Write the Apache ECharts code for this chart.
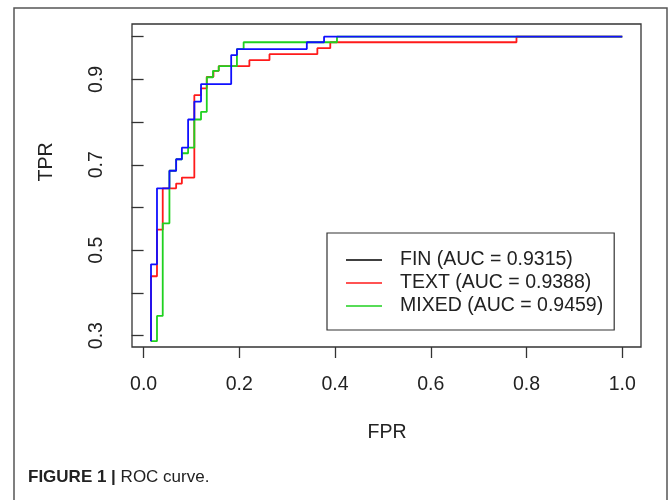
<!DOCTYPE html>
<html>
<head>
<meta charset="utf-8">
<script src="https://cdn.jsdelivr.net/npm/echarts@6/dist/echarts.min.js"></script>
<style>
  html, body { margin: 0; padding: 0; background: #fff; }
  #chart { width: 670px; height: 500px; }
</style>
</head>
<body>
<div id="chart"></div>
<script>
// ROC steps: each point is where a vertical rise starts (step: 'start')
var seriesNames = ["FIN (AUC = 0.9315)", "TEXT (AUC = 0.9388)", "MIXED (AUC = 0.9459)"];
var finFpr = [0.0155, 0.028, 0.054, 0.068, 0.080, 0.093, 0.106, 0.120, 0.183, 0.195, 0.341, 0.377, 1.0];
var finTpr = [0.287, 0.467, 0.645, 0.686, 0.713, 0.740, 0.806, 0.848, 0.889, 0.957, 0.971, 0.987, 1.0];
var textFpr = [0.0155, 0.028, 0.040, 0.068, 0.080, 0.106, 0.120, 0.132, 0.146, 0.157, 0.221, 0.263, 0.363, 0.390, 0.779, 1.0];
var textTpr = [0.287, 0.439, 0.548, 0.645, 0.656, 0.670, 0.863, 0.879, 0.906, 0.920, 0.931, 0.945, 0.959, 0.973, 0.987, 1.0];
var mixedFpr = [0.0155, 0.028, 0.040, 0.054, 0.068, 0.080, 0.093, 0.106, 0.120, 0.132, 0.145, 0.157, 0.195, 0.209, 0.404, 1.0];
var mixedTpr = [0.287, 0.287, 0.346, 0.563, 0.686, 0.713, 0.727, 0.740, 0.806, 0.824, 0.905, 0.920, 0.931, 0.971, 0.987, 1.0];
var xTicks = [0, 0.2, 0.4, 0.6, 0.8, 1.0];
var yTicks = [0.3, 0.4, 0.5, 0.6, 0.7, 0.8, 0.9, 1.0];
var yLabels = [0.3, 0.5, 0.7, 0.9];

var font = "'Liberation Sans', Arial, sans-serif";
var colors = ["#1010ff", "#ff1a1a", "#1fd11f"];
var legendColors = ["#000000", "#ff1a1a", "#1fd11f"];
var zOrder = [4, 2, 3]; // blue on top

function pairs(xs, ys) {
    return xs.map(function(x, i) { return [x, ys[i]]; });
}

var chart = echarts.init(document.getElementById("chart"), null, { renderer: "canvas" });

var lines = [[finFpr, finTpr], [textFpr, textTpr], [mixedFpr, mixedTpr]].map(function(d, i) {
    return {
        name: seriesNames[i],
        type: "line",
        step: "start",
        symbol: "none",
        z: zOrder[i],
        lineStyle: { color: colors[i], width: 1.8 },
        itemStyle: { color: colors[i] },
        data: pairs(d[0], d[1])
    };
});

var option = {
    animation: false,
    backgroundColor: "#fff",
    grid: {
        left: 132, top: 24, width: 509, height: 323,
        show: true, borderColor: "#333", borderWidth: 1.3, backgroundColor: "transparent"
    },
    xAxis: {
        type: "value",
        min: -0.0242, max: 1.0391,
        splitLine: { show: false },
        axisLine: { show: false },
        axisTick: { show: true, inside: false, length: 11, customValues: xTicks, lineStyle: { color: "#333", width: 1.3 } },
        axisLabel: {
            customValues: xTicks, margin: 28, fontSize: 19.5, fontFamily: font, color: "#222",
            formatter: function(v) { return v.toFixed(1); }
        }
    },
    yAxis: {
        type: "value",
        min: 0.2733, max: 1.0297,
        splitLine: { show: false },
        axisLine: { show: false },
        axisTick: { show: true, inside: false, length: 12, customValues: yTicks, lineStyle: { color: "#333", width: 1.3 } },
        axisLabel: {
            customValues: yLabels, margin: 25, rotate: 90, fontSize: 19.5, fontFamily: font, color: "#222",
            formatter: function(v) { return v.toFixed(1); }
        }
    },
    legend: {
        orient: "vertical",
        left: 327, top: 233,
        borderColor: "#333", borderWidth: 1.2,
        padding: [17, 11, 14, 19],
        icon: "rect",
        itemWidth: 36, itemHeight: 1.6, itemGap: 3,
        textStyle: { fontSize: 19.5, fontFamily: font, color: "#222", padding: [0, 0, 0, 13] },
        data: seriesNames.map(function(n, i) {
            return { name: n, itemStyle: { color: legendColors[i] } };
        })
    },
    graphic: [
        {
            type: "rect", silent: true, z: -1,
            shape: { x: 14, y: 8, width: 653, height: 510 },
            style: { fill: "none", stroke: "#555", lineWidth: 1.5 }
        },
        {
            type: "text", x: 387, y: 433,
            style: { text: "FPR", fontSize: 19.5, fontFamily: font, fill: "#222", align: "center", verticalAlign: "middle" }
        },
        {
            type: "text", x: 47, y: 162, rotation: Math.PI / 2,
            style: { text: "TPR", fontSize: 19.5, fontFamily: font, fill: "#222", align: "center", verticalAlign: "middle" }
        },
        {
            type: "text", left: 28, top: 469,
            style: {
                text: "{b|FIGURE 1 | }{r|ROC curve.}",
                rich: {
                    b: { fontSize: 17, fontWeight: "bold", fontFamily: font, fill: "#222" },
                    r: { fontSize: 17, fontFamily: font, fill: "#222" }
                }
            }
        }
    ],
    series: lines
};

chart.setOption(option);
</script>
</body>
</html>
